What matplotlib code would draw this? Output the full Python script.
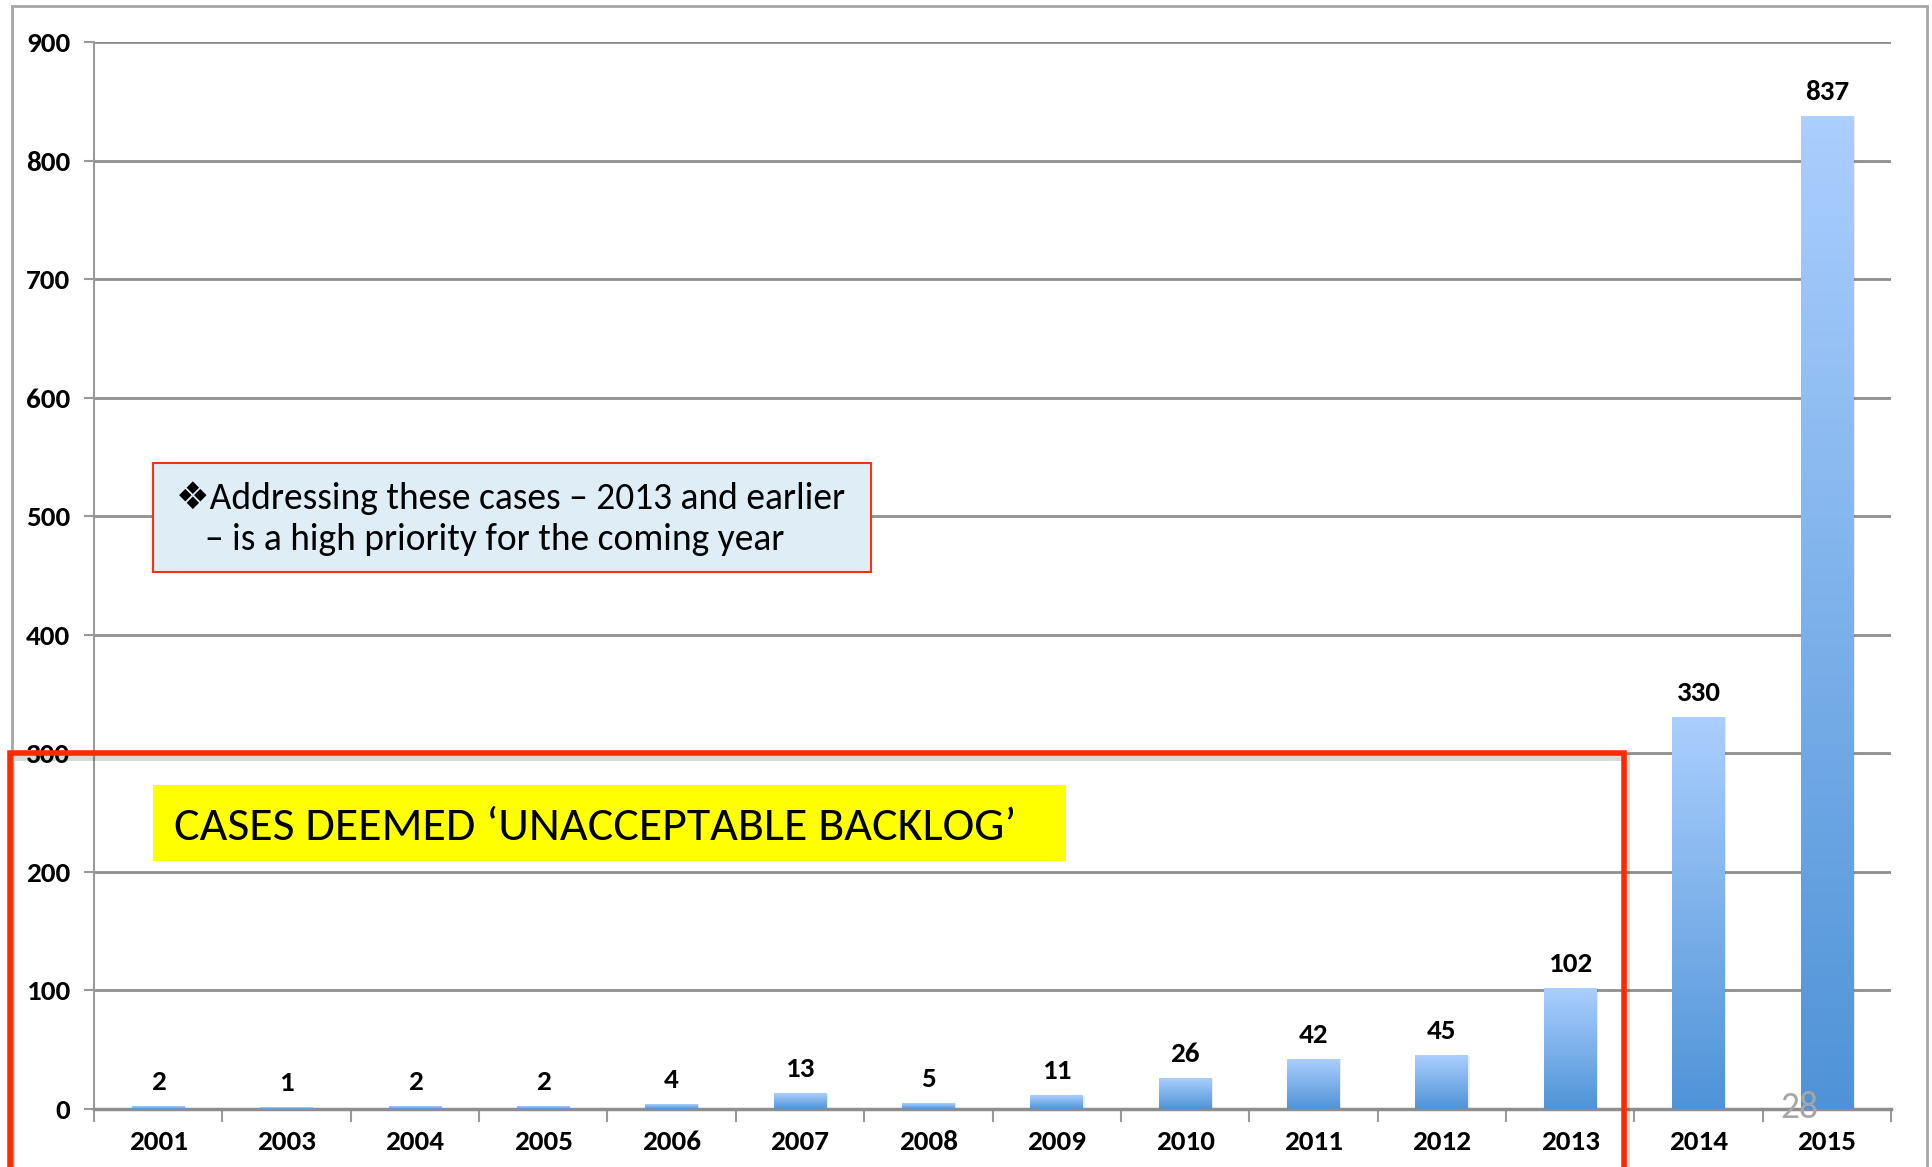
import numpy as np
import matplotlib
matplotlib.use('Agg')
import matplotlib.pyplot as plt
from matplotlib.patches import Rectangle
from matplotlib.colors import LinearSegmentedColormap
from matplotlib import font_manager as fm

years = ['2001', '2003', '2004', '2005', '2006', '2007', '2008', '2009',
         '2010', '2011', '2012', '2013', '2014', '2015']
cases = [2, 1, 2, 2, 4, 13, 5, 11, 26, 42, 45, 102, 330, 837]
yticks = [0, 100, 200, 300, 400, 500, 600, 700, 800, 900]

note_line1 = '\u2756Addressing these cases \u2013 2013 and earlier'
note_line2 = '\u2013 is a high priority for the coming year'
backlog_label = 'CASES DEEMED \u2018UNACCEPTABLE BACKLOG\u2019'
page_no = '28'

# Carlito is metric-compatible with Calibri; fall back to Lato
names = set(f.name for f in fm.fontManager.ttflist)
main = 'Carlito' if 'Carlito' in names else 'Lato'
plt.rcParams['font.family'] = [main, 'DejaVu Sans']

W, H = 1932, 1167
fig = plt.figure(figsize=(W / 100, H / 100), dpi=100)


def fx(px):
    return px / W


def fy(py):
    return 1 - py / H


ax = fig.add_axes([fx(94), fy(1109), fx(1891) - fx(94), fy(42) - fy(1109)])

x = np.arange(len(years))
bw = 0.41
grad = LinearSegmentedColormap.from_list('bar', ['#4f93d7', '#abcffe'])
gimg = np.linspace(0, 1, 256).reshape(-1, 1)
for xi, v in zip(x, cases):
    # soft shadow to the right of each bar
    ax.bar(xi + 0.012, v, bw, color='#000000', alpha=0.08, zorder=2)
    ax.imshow(gimg, extent=(xi - bw / 2, xi + bw / 2, 0, v), origin='lower',
              cmap=grad, aspect='auto', zorder=3)
    ax.annotate(str(v), (xi, v), xytext=(0, 9), textcoords='offset points',
                ha='center', va='bottom', fontsize=21, family=main,
                fontweight='bold')

ax.set_xlim(-0.5, len(years) - 0.5)
ax.set_ylim(0, 900)
ax.set_yticks(yticks)
ax.set_xticks(x)
ax.set_xticklabels(years)
ax.set_xticks(np.arange(len(years) + 1) - 0.5, minor=True)

ax.yaxis.grid(True, color='#8e8e8e', lw=2)
ax.set_axisbelow(True)
for s in ['top', 'right']:
    ax.spines[s].set_visible(False)
ax.spines['left'].set_color('#9a9a9a')
ax.spines['left'].set_linewidth(1.5)
ax.spines['bottom'].set_color('#8e8e8e')
ax.spines['bottom'].set_linewidth(2.5)

ax.tick_params(axis='y', length=7, width=1.5, color='#9a9a9a', pad=10)
ax.tick_params(axis='x', which='major', length=0, pad=15)
ax.tick_params(axis='x', which='minor', length=9, width=1.5, color='#9a9a9a')
for lab in ax.get_xticklabels() + ax.get_yticklabels():
    lab.set_family(main)
    lab.set_fontweight('bold')
    lab.set_fontsize(21)

# outer slide frame
fig.patches.append(Rectangle((fx(12), fy(1300)), fx(1927) - fx(12), fy(6) - fy(1300),
                             transform=fig.transFigure, fill=False,
                             ec='#a6a6a6', lw=2, zorder=1))

# note box
fig.patches.append(Rectangle((fx(153), fy(572)), fx(871) - fx(153), fy(463) - fy(572),
                             transform=fig.transFigure, fc='#deedf6',
                             ec='#ff3010', lw=1.5, zorder=5))
fig.text(fx(176), fy(498), note_line1, fontsize=27, va='center', ha='left',
         zorder=6)
fig.text(fx(205), fy(540), note_line2, fontsize=27, va='center', ha='left',
         zorder=6)

# yellow label
fig.patches.append(Rectangle((fx(153), fy(861)), fx(1066) - fx(153), fy(785) - fy(861),
                             transform=fig.transFigure, fc='#ffff00',
                             ec='none', zorder=5))
fig.text(fx(174), fy(828), backlog_label, fontsize=34.5, va='center', ha='left',
         zorder=6)

# red backlog frame with a faint shadow
shadow = Rectangle((fx(11), fy(1300)), fx(1626) - fx(11), fy(757) - fy(1300),
                   transform=fig.transFigure, fill=False, ec='#000000',
                   alpha=0.15, lw=5, zorder=6.5)
fig.patches.append(shadow)
fig.patches.append(Rectangle((fx(10), fy(1300)), fx(1624) - fx(10), fy(753) - fy(1300),
                             transform=fig.transFigure, fill=False,
                             ec='#ff2a00', lw=4, zorder=7))

fig.text(fx(1799), fy(1107), page_no, fontsize=27, color='#a6a6a6',
         ha='center', va='center', zorder=8)

fig.savefig('out.png', dpi=100)
